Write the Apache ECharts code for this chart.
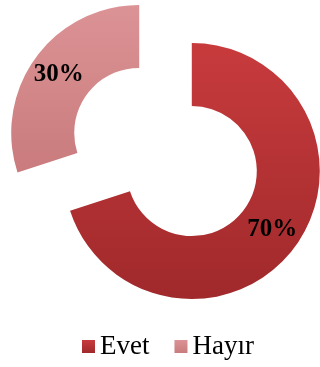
<!DOCTYPE html>
<html>
<head>
<meta charset="utf-8">
<script src="https://cdn.jsdelivr.net/npm/echarts@6/dist/echarts.min.js"></script>
<style>
html,body{margin:0;padding:0;background:#fff;}
#chart{width:320px;height:367px;}
</style>
</head>
<body>
<div id="chart"></div>
<script>
const categories = ['Evet', 'Hayır'];
const values = [70, 30];
const colorsTop = ['#C83B3D', '#DC9395'];
const colorsBottom = ['#A0292B', '#C97B7D'];

const chart = echarts.init(document.getElementById('chart'), null, {renderer: 'canvas'});
const data = categories.map((c, i) => ({
  name: c,
  value: values[i],
  selected: true,
  itemStyle: {
    color: new echarts.graphic.LinearGradient(0, 0, 0, 1, [
      {offset: 0, color: colorsTop[i]},
      {offset: 1, color: colorsBottom[i]}
    ])
  }
}));

chart.setOption({
  animation: false,
  legend: {
    bottom: 2,
    left: 77,
    icon: 'rect',
    itemWidth: 13,
    itemHeight: 13,
    itemGap: 25,
    selectedMode: false,
    textStyle: {fontFamily: 'Liberation Serif', fontSize: 27, color: '#000'}
  },
  series: [{
    type: 'pie',
    center: [165.5, 152],
    radius: [65, 128],
    startAngle: 90,
    clockwise: true,
    selectedMode: 'multiple',
    selectedOffset: 32.5,
    avoidLabelOverlap: false,
    emphasis: {disabled: true},
    label: {
      show: true,
      position: 'inside',
      formatter: '{d}%',
      fontFamily: 'Liberation Serif',
      fontWeight: 'bold',
      fontSize: 25,
      color: '#000'
    },
    labelLine: {show: false},
    data: data
  }]
});
</script>
</body>
</html>
